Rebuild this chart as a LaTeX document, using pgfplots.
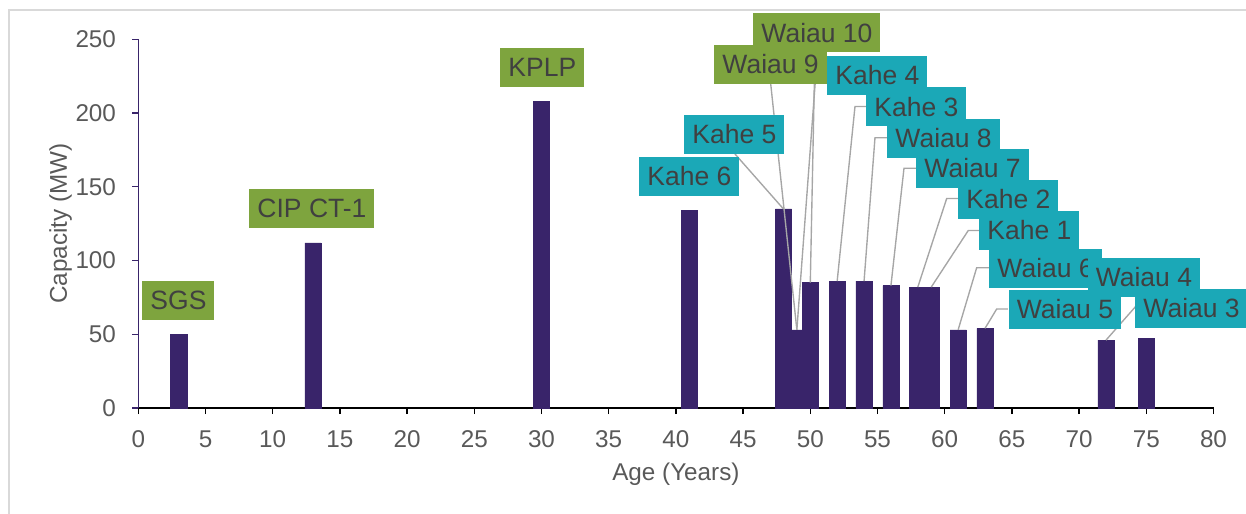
\documentclass[border=0pt]{standalone}
\usepackage{fontspec}
\setmainfont{Liberation Sans}
\usepackage{pgfplots}
\pgfplotsset{compat=1.18}
\definecolor{barpurple}{HTML}{39246A}
\definecolor{lblgreen}{HTML}{7EA43E}
\definecolor{lblteal}{HTML}{1BA8B7}
\definecolor{lbltext}{HTML}{404040}
\definecolor{axtext}{HTML}{595959}
\definecolor{leadergrey}{HTML}{A6A6A6}
\definecolor{framegrey}{HTML}{D9D9D9}
\begin{document}
\begin{tikzpicture}
\useasboundingbox (0,0) rectangle (498.4pt,-205.6pt);
\begin{axis}[
  at={(55.32pt,-163.2pt)}, anchor=south west,
  scale only axis, width=430.08pt, height=147.48pt,
  xmin=0, xmax=80, ymin=0, ymax=250,
  xtick={0,5,...,80}, ytick={0,50,...,250},
  axis x line*=bottom, axis y line*=left,
  x axis line style={black,line width=0.8pt,-},
  y axis line style={barpurple,line width=0.5pt,-},
  tick align=outside, major tick length=2.4pt,
  xtick style={black,line width=0.6pt},
  ytick style={barpurple,line width=0.5pt},
  /pgf/number format/assume math mode=true,
  tick label style={font=\fontsize{9.7}{11.6}\selectfont,text=axtext},
  label style={font=\fontsize{9.7}{11.6}\selectfont,text=axtext},
  xticklabel style={yshift=-3pt},
  yticklabel style={xshift=-3pt},
  xlabel={Age (Years)},
  ylabel={Capacity (MW)},
  xlabel style={at={(axis description cs:0.5,-0.1953)},anchor=base},
  ylabel style={at={(axis description cs:-0.0665,0.5)},anchor=base},
  clip=false]
\addplot[ybar, bar width=1.21, fill=barpurple, draw=barpurple, line width=0.2pt]
  coordinates {(3,50) (13,112) (30,208) (41,134) (49,53) (49,53) (48,135) (50,85)
  (52,86) (54,86) (56,83) (58,82) (59,82) (61,53) (63,54) (72,46) (75,47)};
\coordinate (k5) at (axis cs:48,135);
\coordinate (w9) at (axis cs:49,53);
\coordinate (k4) at (axis cs:50,85);
\coordinate (k3) at (axis cs:52,86);
\coordinate (w8) at (axis cs:54,86);
\coordinate (w7) at (axis cs:56,83);
\coordinate (k2) at (axis cs:58,82);
\coordinate (k1) at (axis cs:59,82);
\coordinate (w6) at (axis cs:61,53);
\coordinate (w5) at (axis cs:63,54);
\coordinate (w4) at (axis cs:72,46);
\end{axis}
\begin{scope}[x=0.4pt,y=-0.4pt,
  leader/.style={leadergrey,line width=0.55pt},
  lbl/.style={anchor=west,font=\fontsize{10.6}{12.7}\selectfont,text=lbltext,
    inner xsep=3.2pt,inner ysep=0pt,minimum height=15.5pt,text height=7.6pt,text depth=0pt}]
% outer frame
\draw[framegrey,line width=0.8pt] (9,514) -- (9,10) -- (1246,10);
% leader lines
\draw[leader] (735,154) -- (k5);
\draw[leader] (770.7,83.7) -- (w9);
\draw[leader] (817.5,52) -- (w9);
\draw[leader] (827,75.3) -- (814.5,75.3) -- (k4);
\draw[leader] (866,106.5) -- (855,106.5) -- (k3);
\draw[leader] (887,137.7) -- (875,137.7) -- (w8);
\draw[leader] (916,168.3) -- (904,168.3) -- (w7);
\draw[leader] (958,198.5) -- (946.7,198.5) -- (k2);
\draw[leader] (979,230.5) -- (968.3,230.5) -- (k1);
\draw[leader] (989,267.7) -- (976.7,267.7) -- (w6);
\draw[leader] (1008,309) -- (996.7,309) -- (w5);
\draw[leader] (1144,297) -- (w4);
% labels
\node[lbl,fill=lblgreen] at (142,300.5) {SGS};
\node[lbl,fill=lblgreen] at (249,208.5) {CIP CT-1};
\node[lbl,fill=lblgreen] at (500,67.5) {KPLP};
\node[lbl,fill=lblteal] at (639,176.5) {Kahe 6};
\node[lbl,fill=lblteal] at (684,134.5) {Kahe 5};
\node[lbl,fill=lblgreen] at (753,32.7) {Waiau 10};
\node[lbl,fill=lblgreen] at (714,64.5) {Waiau 9};
\node[lbl,fill=lblteal] at (827,75.3) {Kahe 4};
\node[lbl,fill=lblteal] at (866,106.7) {Kahe 3};
\node[lbl,fill=lblteal] at (887,138.3) {Waiau 8};
\node[lbl,fill=lblteal] at (916,168.5) {Waiau 7};
\node[lbl,fill=lblteal] at (958,199.2) {Kahe 2};
\node[lbl,fill=lblteal] at (979,230.3) {Kahe 1};
\node[lbl,fill=lblteal] at (989,268.4) {Waiau 6};
\node[lbl,fill=lblteal] at (1008.3,309.5) {Waiau 5};
\node[lbl,fill=lblteal] at (1087.3,277.5) {Waiau 4};
\node[lbl,fill=lblteal] at (1135,308.3) {Waiau 3};
\end{scope}
\end{tikzpicture}
\end{document}
